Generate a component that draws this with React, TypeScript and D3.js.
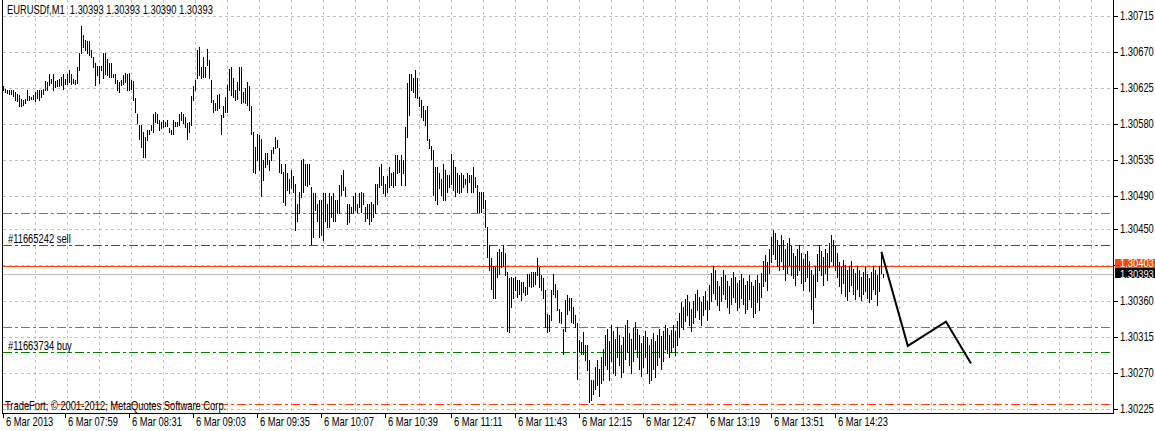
import React from 'react';
import * as d3 from 'd3';

// Prices are stored as points above 1.30000 (price = 1.3 + pts / 100000)
const highPts: number[] = [
  627,624,623,622,622,622,620,618,616,611,
  610,611,622,615,614,616,620,622,623,622,
  624,634,633,643,636,643,634,635,636,639,
  643,636,643,648,643,636,635,651,668,702,
  691,685,683,684,672,664,656,653,652,653,
  668,668,661,656,656,643,643,635,633,635,
  641,644,643,644,635,634,613,593,579,579,
  570,564,573,573,579,593,595,593,585,583,
  585,583,585,575,573,585,583,583,593,595,
  593,589,581,583,615,627,635,672,676,651,
  664,651,673,660,635,610,606,616,617,591,
  602,614,629,649,651,637,622,633,651,651,
  620,625,633,627,602,570,552,568,566,562,
  535,544,544,535,548,552,564,560,550,531,
  521,531,519,512,523,516,506,481,496,
  535,537,531,531,531,502,494,494,481,485,
  485,494,494,481,494,490,494,485,485,504,
  517,523,502,481,481,477,490,494,481,494,
  496,494,477,481,481,483,481,506,506,527,
  531,516,506,516,527,519,521,541,541,535,
  541,535,577,631,643,643,637,647,637,614,
  610,602,597,602,562,553,548,527,527,519,
  512,531,523,517,517,543,535,527,519,517,
  519,517,512,519,517,517,527,514,504,496,
  496,496,485,452,429,413,404,402,421,425,
  421,429,419,396,388,390,388,390,386,386,
  384,384,377,394,394,396,396,396,413,402,
  392,388,373,344,342,373,394,381,373,350,
  346,325,361,367,363,363,352,342,332,311,
  309,321,305,305,286,261,261,
  278,286,275,290,300,318,325,310,330,322,
  312,328,318,305,315,330,336,320,312,326,
  334,325,318,308,316,322,315,305,312,320,
  310,318,325,316,322,330,326,318,324,330,
  322,335,345,358,352,362,367,358,350,360,
  368,373,365,358,366,372,360,380,395,404,
  398,385,378,390,398,392,385,378,388,396,
  390,382,386,394,388,380,385,392,384,378,
  386,392,382,395,410,417,408,425,440,448,
  444,436,430,442,436,425,432,438,428,420,
  416,425,429,420,412,418,422,410,398,392,
  404,418,429,422,415,425,420,432,442,436,
  428,420,408,402,411,405,398,404,410,400,
  395,404,398,390,396,402,394,388,396,404,
  398,392,404,421,393,
];
const lowPts: number[] = [
  622,620,619,618,617,615,610,609,603,603,
  604,606,610,610,611,611,609,612,610,614,
  618,622,622,629,631,622,626,627,628,629,
  624,630,630,632,630,631,630,631,647,668,
  676,672,668,666,664,651,629,641,631,647,
  637,643,641,639,639,639,631,622,620,629,
  630,633,622,622,624,610,595,581,562,552,
  539,539,560,568,573,570,583,581,573,575,
  577,578,578,570,568,568,578,578,579,585,
  581,577,562,570,579,610,623,637,641,637,
  639,639,654,637,608,595,598,598,600,568,
  589,595,595,622,616,614,610,611,622,606,
  608,606,604,598,568,521,519,535,523,490,
  510,527,531,523,535,544,550,552,521,519,
  483,479,498,494,500,496,448,460,469,
  489,496,504,503,506,431,440,473,460,440,
  442,436,460,452,452,465,460,460,469,469,
  492,498,490,456,458,469,469,473,471,477,
  471,481,460,463,456,460,465,469,481,502,
  504,494,490,496,502,504,502,504,519,521,
  504,519,504,564,591,622,620,614,612,602,
  589,585,579,560,550,537,492,485,481,500,
  492,485,485,496,502,506,498,490,496,494,
  496,502,506,496,508,496,496,502,471,471,
  471,475,452,415,398,375,363,363,390,394,
  402,404,392,323,321,352,363,373,365,369,
  361,371,367,369,379,377,379,381,392,377,
  373,363,328,321,323,336,369,365,348,334,
  332,294,323,344,348,334,332,328,263,298,
  294,294,286,274,234,236,244,
  250,255,242,258,262,280,275,262,285,270,
  268,290,280,265,272,288,296,280,270,285,
  300,290,275,266,278,290,270,258,262,275,
  265,280,290,275,285,300,295,290,296,302,
  292,305,315,328,325,335,342,330,323,332,
  340,348,338,330,342,350,336,350,360,370,
  362,355,348,360,368,362,352,345,356,365,
  358,348,352,364,356,345,350,362,352,340,
  345,358,348,365,378,385,373,395,408,418,
  412,404,398,410,400,386,395,405,392,388,
  380,392,398,382,373,385,390,372,350,333,
  365,385,398,392,380,395,386,402,410,405,
  398,390,378,370,382,366,361,372,380,368,
  362,375,366,361,368,372,364,358,362,375,
  368,355,372,395,390,
];

const timeLabels = [
  '6 Mar 2013', '6 Mar 07:59', '6 Mar 08:31', '6 Mar 09:03', '6 Mar 09:35',
  '6 Mar 10:07', '6 Mar 10:39', '6 Mar 11:11', '6 Mar 11:43', '6 Mar 12:15',
  '6 Mar 12:47', '6 Mar 13:19', '6 Mar 13:51', '6 Mar 14:23',
];
const timeTickBars = [0, 31, 63, 95, 127, 159, 191, 224, 256, 288, 320, 352, 384, 416];

const priceTicks = [1.30715, 1.3067, 1.30625, 1.3058, 1.30535, 1.3049, 1.3045, 1.30405, 1.3036, 1.30315, 1.3027, 1.30225];

const askPrice = 1.30403;
const bidPrice = 1.30393;
const orderLines = [
  { price: 1.30469, kind: 'sl', label: '' },
  { price: 1.30429, kind: 'open', label: '#11665242 sell' },
  { price: 1.30328, kind: 'sl', label: '' },
  { price: 1.30296, kind: 'open', label: '#11663734 buy' },
  { price: 1.30231, kind: 'sl', label: '' },
];
const zigzagBars = [439.2, 452.4, 471.5, 484];
const zigzagPrices = [1.30421, 1.30304, 1.30334, 1.30282];

const title = 'EURUSDf,M1  1.30393 1.30393 1.30390 1.30393';
const copyright = 'TradeFort, © 2001-2012, MetaQuotes Software Corp.';

const FONT = "'Liberation Sans', Arial, sans-serif";
const ORANGE = '#ff4500';
const GREEN = '#008000';
const GRID = '#c0c0c0';

function Txt({ x, y, fill = '#000', size = 12, children }: { x: number; y: number; fill?: string; size?: number; children: React.ReactNode }) {
  return (
    <text transform={`translate(${x},${y}) scale(${(0.78 * 12) / size},1)`} fontSize={size} fill={fill} style={{ whiteSpace: 'pre' }}>
      {children}
    </text>
  );
}

export default function App() {
  const W = 1155;
  const H = 431;
  const left = 3;
  const right = 1113;
  const bottom = 413;

  const x = d3.scaleLinear().domain([0, 1]).range([left, left + 2]);
  const y = d3.scaleLinear().domain([1.30225, 1.30715]).range([409.3, 15.7]);
  const p = (pts: number) => 1.3 + pts / 100000;
  const c = (v: number) => Math.round(v) + 0.5;

  const vGrid = d3.range(1, 35).map((k) => x(k * 16));

  const zig = d3.line<number>()
    .x((_, i) => x(zigzagBars[i]))
    .y((d) => y(d))(zigzagPrices) || '';

  const askY = Math.round(y(askPrice));
  const bidY = Math.round(y(bidPrice));
  // tick labels hidden beneath the price tags (as in the terminal)
  const labelVisible = (t: number) => Math.abs(y(t) - (askY + bidY) / 2) > 9;

  return (
    <svg width={W} height={H} style={{ position: 'absolute', left: 0, top: 0, background: '#fff' }}
      fontFamily={FONT}>
      <rect x={0} y={0} width={W} height={H} fill="#fff" />
      {vGrid.map((gx, i) => (
        <line key={'vg' + i} x1={c(gx)} x2={c(gx)} y1={0} y2={bottom} stroke={GRID} strokeDasharray="3,3" />
      ))}
      {priceTicks.map((t, i) => (
        <line key={'hg' + i} x1={left} x2={right} y1={c(y(t))} y2={c(y(t))} stroke={GRID} strokeDasharray="3,3" />
      ))}
      {orderLines.map((o, i) => (
        <line key={'ol' + i} x1={left} x2={right} y1={c(y(o.price))} y2={c(y(o.price))}
          stroke={o.kind === 'open' ? GREEN : ORANGE} strokeDasharray="9,3,3,3" />
      ))}
      {orderLines.filter((o) => o.label).map((o, i) => (
        <Txt key={'olt' + i} x={8} y={c(y(o.price)) - 3}>{o.label}</Txt>
      ))}
      <line x1={left} x2={right} y1={c(y(bidPrice))} y2={c(y(bidPrice))} stroke={GRID} />
      <line x1={left} x2={right} y1={c(y(askPrice))} y2={c(y(askPrice))} stroke={ORANGE} />
      {highPts.map((h, i) => {
        const yt = Math.round(y(p(h)));
        const yb = Math.round(y(p(lowPts[i])));
        return <rect key={'b' + i} x={Math.round(x(i))} y={yt} width={1} height={Math.max(1, yb - yt + 1)} fill="#000" shapeRendering="crispEdges" />;
      })}
      <path d={zig} fill="none" stroke="#000" strokeWidth={2} strokeLinejoin="miter" />
      <line x1={2.5} x2={2.5} y1={0} y2={bottom + 0.5} stroke="#000" />
      <line x1={right + 0.5} x2={right + 0.5} y1={0} y2={bottom + 0.5} stroke="#000" />
      <line x1={2} x2={right + 1} y1={bottom + 0.5} y2={bottom + 0.5} stroke="#000" />
      {priceTicks.map((t, i) => (
        <g key={'pt' + i}>
          <line x1={right + 1} x2={right + 5} y1={c(y(t))} y2={c(y(t))} stroke="#000" />
          {labelVisible(t) && <Txt x={1120} y={y(t) + 4}>{t.toFixed(5)}</Txt>}
        </g>
      ))}
      <rect x={1115} y={askY - 7} width={40} height={10} fill={ORANGE} />
      <Txt x={1120} y={askY + 1} size={10} fill="#fff">{askPrice.toFixed(5)}</Txt>
      <rect x={1115} y={bidY - 6} width={40} height={10} fill="#000" />
      <Txt x={1120} y={bidY + 3.5} size={10} fill="#fff">{bidPrice.toFixed(5)}</Txt>
      {timeTickBars.map((b, i) => (
        <g key={'tt' + i}>
          <line x1={c(x(b))} x2={c(x(b))} y1={bottom + 1} y2={bottom + 5} stroke="#000" />
          <Txt x={x(b) + 3} y={426}>{timeLabels[i]}</Txt>
        </g>
      ))}
      <Txt x={7} y={14}>{title}</Txt>
      <Txt x={5} y={410}>{copyright}</Txt>
    </svg>
  );
}
